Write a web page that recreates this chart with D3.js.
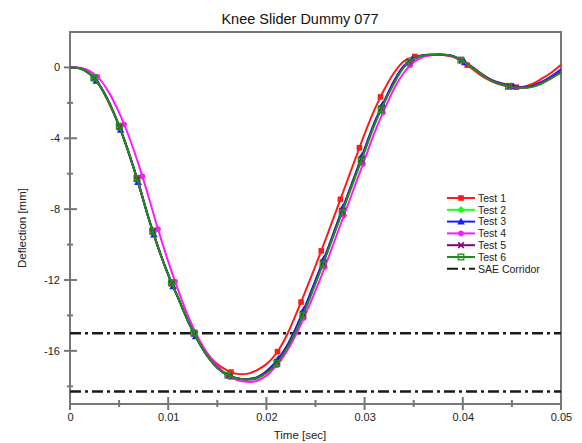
<!DOCTYPE html>
<html>
<head>
<meta charset="utf-8">
<script src="https://cdn.jsdelivr.net/npm/d3@7"></script>
<style>
  body { margin: 0; background: #fff; }
  svg { font-family: "Liberation Sans", Arial, sans-serif; }
</style>
</head>
<body>
<div id="chart"></div>
<script>
// time in seconds
var time = [0,0.001,0.002,0.003,0.004,0.005,0.006,0.007,0.008,0.009,
  0.010,0.011,0.012,0.013,0.014,0.015,0.016,0.017,0.018,0.019,
  0.020,0.021,0.022,0.023,0.024,0.025,0.026,0.027,0.028,0.029,
  0.030,0.031,0.032,0.033,0.034,0.035,0.036,0.037,0.038,0.039,
  0.040,0.041,0.042,0.043,0.044,0.045,0.046,0.047,0.048,0.049,0.050];

var test1 = [0,-0.05,-0.35,-1.0,-2.05,-3.3,-4.85,-6.6,-8.5,-10.2,
  -11.7,-13.0,-14.25,-15.3,-16.15,-16.75,-17.1,-17.3,-17.3,-17.1,
  -16.75,-16.15,-15.2,-13.95,-12.6,-11.2,-9.75,-8.25,-6.75,-5.25,
  -3.75,-2.4,-1.25,-0.3,0.35,0.6,0.68,0.7,0.7,0.6,
  0.3,-0.1,-0.5,-0.8,-1.0,-1.1,-1.1,-0.95,-0.65,-0.3,0.15];

var test2 = [0,-0.05,-0.35,-1.0,-2.0,-3.3,-4.85,-6.6,-8.5,-10.2,
  -11.7,-13.0,-14.3,-15.4,-16.3,-16.95,-17.35,-17.55,-17.6,-17.5,
  -17.15,-16.6,-15.8,-14.75,-13.45,-12.05,-10.6,-9.1,-7.6,-6.1,
  -4.6,-3.15,-1.95,-0.8,0.05,0.5,0.7,0.72,0.72,0.64,
  0.35,-0.02,-0.4,-0.75,-0.92,-1.07,-1.13,-1.06,-0.85,-0.55,-0.2];

var test3 = [0,-0.05,-0.35,-1.0,-2.0,-3.3,-4.85,-6.6,-8.5,-10.2,
  -11.7,-13.0,-14.3,-15.4,-16.3,-16.95,-17.35,-17.55,-17.6,-17.5,
  -17.15,-16.6,-15.8,-14.7,-13.4,-12.0,-10.6,-9.1,-7.6,-6.1,
  -4.6,-3.1,-1.9,-0.75,0.1,0.5,0.7,0.72,0.72,0.65,
  0.35,0.0,-0.4,-0.72,-0.9,-1.05,-1.12,-1.04,-0.82,-0.5,-0.1];

var test4 = [0,-0.02,-0.2,-0.65,-1.45,-2.55,-3.9,-5.5,-7.3,-9.2,
  -10.95,-12.55,-14.0,-15.2,-16.15,-16.85,-17.35,-17.65,-17.75,-17.7,
  -17.4,-16.85,-16.1,-15.1,-13.9,-12.6,-11.2,-9.7,-8.2,-6.7,
  -5.2,-3.7,-2.4,-1.2,-0.3,0.3,0.6,0.7,0.7,0.62,
  0.35,0.0,-0.4,-0.75,-0.95,-1.1,-1.15,-1.08,-0.87,-0.57,-0.25];

var test5 = [0,-0.05,-0.35,-1.0,-2.0,-3.3,-4.85,-6.6,-8.5,-10.2,
  -11.7,-13.0,-14.3,-15.4,-16.3,-16.95,-17.35,-17.55,-17.62,-17.55,
  -17.2,-16.7,-15.9,-14.85,-13.55,-12.15,-10.7,-9.2,-7.7,-6.2,
  -4.7,-3.2,-1.95,-0.85,0.05,0.5,0.68,0.72,0.72,0.64,
  0.35,0.0,-0.4,-0.75,-0.95,-1.08,-1.14,-1.08,-0.88,-0.58,-0.25];

var test6 = [0,-0.05,-0.35,-1.0,-2.0,-3.3,-4.85,-6.6,-8.5,-10.2,
  -11.7,-13.0,-14.3,-15.4,-16.3,-16.95,-17.35,-17.55,-17.62,-17.55,
  -17.25,-16.75,-15.95,-14.9,-13.6,-12.2,-10.75,-9.25,-7.75,-6.25,
  -4.75,-3.25,-2.0,-0.9,0.0,0.48,0.68,0.72,0.72,0.64,
  0.35,-0.02,-0.42,-0.78,-0.98,-1.1,-1.15,-1.1,-0.92,-0.62,-0.3];

var seriesNames = ["Test 1","Test 2","Test 3","Test 4","Test 5","Test 6"];
var seriesValues = [test1, test2, test3, test4, test5, test6];
var colors = ["#ff1a1a","#1aff1a","#1a1aff","#ff1aff","#800080","#1e8c1e"];
var markerTypes = ["square","diamond","triangle","circle","cross","opensquare"];

var corridor = [-15, -18.3];
var corridorLabel = "SAE Corridor";

var xTicks = [0,0.01,0.02,0.03,0.04,0.05];
var xMinor = [0.005,0.015,0.025,0.035,0.045];
var yTicks = [-16,-12,-8,-4,0];
var yMinor = [-18,-14,-10,-6,-2];

var W = 582, H = 443;
var margin = {top: 32, right: 21, bottom: 39, left: 70},
    width = W - margin.left - margin.right,
    height = H - margin.top - margin.bottom;

var svg = d3.select("#chart").append("svg")
  .attr("width", W).attr("height", H);

svg.append("text")
  .attr("x", 300).attr("y", 24)
  .attr("text-anchor", "middle")
  .style("font-size", "14.5px").style("fill", "#111")
  .text("Knee Slider Dummy 077");

var g = svg.append("g")
  .attr("transform", "translate(" + margin.left + "," + margin.top + ")");

var x = d3.scaleLinear().domain([0, 0.05]).range([0, width]);
var y = d3.scaleLinear().domain([-19, 2]).range([height, 0]);

var axisColor = "#777";

// frame
g.append("rect")
  .attr("width", width).attr("height", height)
  .attr("fill", "none").attr("stroke", axisColor).attr("stroke-width", 2);

// y axis (plain hyphen for negatives, like the original)
var yAxis = g.append("g")
  .call(d3.axisLeft(y).tickValues(yTicks).tickSize(0).tickPadding(10).tickFormat(d => String(d)));
yAxis.select(".domain").remove();
yAxis.selectAll("text").style("font-size", "11px").style("fill", "#222");
g.selectAll(".ymaj").data(yTicks).enter().append("line")
  .attr("x1", -6).attr("x2", 7)
  .attr("y1", d => y(d)).attr("y2", d => y(d))
  .attr("stroke", axisColor).attr("stroke-width", 2);
g.selectAll(".ymin").data(yMinor).enter().append("line")
  .attr("x1", -3).attr("x2", 3)
  .attr("y1", d => y(d)).attr("y2", d => y(d))
  .attr("stroke", axisColor).attr("stroke-width", 2);

// x axis
var xAxis = g.append("g")
  .attr("transform", "translate(0," + height + ")")
  .call(d3.axisBottom(x).tickValues(xTicks).tickSize(0).tickPadding(9)
    .tickFormat(d => d === 0 ? "0" : d3.format(".2~f")(d)));
xAxis.select(".domain").remove();
xAxis.selectAll("text").style("font-size", "11px").style("fill", "#222");
g.selectAll(".xmaj").data(xTicks).enter().append("line")
  .attr("x1", d => x(d)).attr("x2", d => x(d))
  .attr("y1", height - 7).attr("y2", height + 6)
  .attr("stroke", axisColor).attr("stroke-width", 2);
g.selectAll(".xmin").data(xMinor).enter().append("line")
  .attr("x1", d => x(d)).attr("x2", d => x(d))
  .attr("y1", height - 4).attr("y2", height + 3)
  .attr("stroke", axisColor).attr("stroke-width", 2);

// axis titles
svg.append("text")
  .attr("x", 300).attr("y", 439)
  .attr("text-anchor", "middle")
  .style("font-size", "11.5px").style("fill", "#222")
  .text("Time [sec]");
svg.append("text")
  .attr("transform", "translate(26,228) rotate(-90)")
  .attr("text-anchor", "middle")
  .style("font-size", "11.5px").style("fill", "#222")
  .text("Deflection [mm]");

// SAE corridor
var dashDot = "11,4,3,4";
g.selectAll(".corr").data(corridor).enter().append("line")
  .attr("x1", 0).attr("x2", width)
  .attr("y1", d => y(d)).attr("y2", d => y(d))
  .attr("stroke", "#1a1a1a").attr("stroke-width", 2.5)
  .attr("stroke-dasharray", dashDot);

function drawMarker(sel, type, color, s) {
  if (type === "square") {
    sel.append("rect").attr("x", -s).attr("y", -s).attr("width", 2*s).attr("height", 2*s).attr("fill", color);
  } else if (type === "diamond") {
    sel.append("path").attr("d", "M0," + (-s-1) + "L" + (s+1) + ",0L0," + (s+1) + "L" + (-s-1) + ",0Z").attr("fill", color);
  } else if (type === "triangle") {
    sel.append("path").attr("d", "M0," + (-s-1) + "L" + (s+1) + "," + s + "L" + (-s-1) + "," + s + "Z").attr("fill", color);
  } else if (type === "circle") {
    sel.append("circle").attr("r", s).attr("fill", color);
  } else if (type === "cross") {
    sel.append("path").attr("d", "M" + (-s) + "," + (-s) + "L" + s + "," + s + "M" + (-s) + "," + s + "L" + s + "," + (-s))
      .attr("stroke", color).attr("stroke-width", 1.6).attr("fill", "none");
  } else {
    sel.append("rect").attr("x", -s).attr("y", -s).attr("width", 2*s).attr("height", 2*s)
      .attr("fill", "none").attr("stroke", color).attr("stroke-width", 1.3);
  }
}

var line = d3.line()
  .x((d, i) => x(time[i]))
  .y(d => y(d))
  .curve(d3.curveCatmullRom);

var markerOffsets = [0, 2, 4, 3, 1, 0];
seriesValues.forEach(function(vals, k) {
  var p = g.append("path")
    .datum(vals)
    .attr("d", line)
    .attr("fill", "none")
    .attr("stroke", colors[k])
    .attr("stroke-width", 2);
  // markers spaced along the path
  var node = p.node(), len = node.getTotalLength();
  var step = 55, start = 27 + markerOffsets[k];
  for (var l = start; l < len - 5; l += step) {
    var pt = node.getPointAtLength(l);
    var mg = g.append("g").attr("transform", "translate(" + pt.x + "," + pt.y + ")");
    drawMarker(mg, markerTypes[k], colors[k], 2.8);
  }
});

// legend
var legend = svg.append("g").attr("transform", "translate(447,198)");
var legendItems = seriesNames.concat([corridorLabel]);
legendItems.forEach(function(name, i) {
  var row = legend.append("g").attr("transform", "translate(0," + (i * 11.8) + ")");
  var ln = row.append("line").attr("x1", 0).attr("x2", 28).attr("y1", 0).attr("y2", 0)
    .attr("stroke-width", 2);
  if (i < seriesNames.length) {
    ln.attr("stroke", colors[i]);
    var mg = row.append("g").attr("transform", "translate(14,0)");
    drawMarker(mg, markerTypes[i], colors[i], 2.8);
  } else {
    ln.attr("stroke", "#1a1a1a").attr("stroke-dasharray", "11,4,3,4");
  }
  row.append("text").attr("x", 31).attr("y", 3.8)
    .style("font-size", "10.5px").style("fill", "#222")
    .text(name);
});
</script>
</body>
</html>
